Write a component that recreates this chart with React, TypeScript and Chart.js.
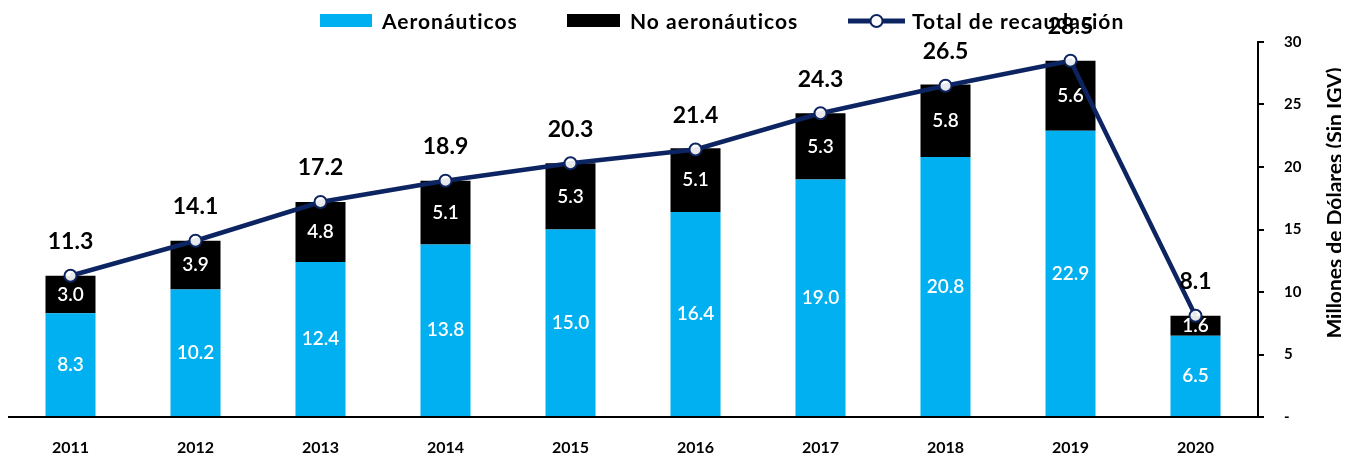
import React, { useEffect, useRef } from "react";
import { Chart, registerables } from "chart.js";

Chart.register(...registerables);

const years = ["2011", "2012", "2013", "2014", "2015", "2016", "2017", "2018", "2019", "2020"];
const aeronauticos = [8.3, 10.2, 12.4, 13.8, 15.0, 16.4, 19.0, 20.8, 22.9, 6.5];
const noAeronauticos = [3.0, 3.9, 4.8, 5.1, 5.3, 5.1, 5.3, 5.8, 5.6, 1.6];
const totalRecaudacion = [11.3, 14.1, 17.2, 18.9, 20.3, 21.4, 24.3, 26.5, 28.5, 8.1];
const yTicks = [0, 5, 10, 15, 20, 25, 30];
const seriesNames = ["Aeronáuticos", "No aeronáuticos", "Total de recaudación"];
const axisTitle = "Millones de Dólares (Sin IGV)";

const CYAN = "#00B0F0";
const BLACK = "#000000";
const NAVY = "#0C2461";
const FONT = "Lato, 'Open Sans', sans-serif";

// legend layout (canvas px): marker start x, marker width, text start x
const legendSlots = [
  { mx: 312, mw: 52, tx: 374 },
  { mx: 559, mw: 53, tx: 622 },
  { mx: 840, mw: 57, tx: 904 },
];

const labelsPlugin = {
  id: "customLabels",
  afterDatasetsDraw(chart: any) {
    const ctx = chart.ctx;
    ctx.save();
    [0, 1].forEach((di) => {
      const meta = chart.getDatasetMeta(di);
      const data = chart.data.datasets[di].data as number[];
      meta.data.forEach((el: any, i: number) => {
        const cy = (el.y + el.base) / 2;
        ctx.fillStyle = "#ffffff";
        ctx.font = `600 19px ${FONT}`;
        ctx.textAlign = "center";
        ctx.textBaseline = "middle";
        ctx.fillText(data[i].toFixed(1), el.x, cy);
      });
    });
    const lmeta = chart.getDatasetMeta(2);
    const ldata = chart.data.datasets[2].data as number[];
    lmeta.data.forEach((el: any, i: number) => {
      ctx.fillStyle = "#000000";
      ctx.font = `bold 23px ${FONT}`;
      ctx.textAlign = "center";
      ctx.textBaseline = "middle";
      ctx.fillText(ldata[i].toFixed(1), el.x, el.y - 34);
    });
    ctx.restore();
  },
  afterDraw(chart: any) {
    const ctx = chart.ctx;
    ctx.save();
    ctx.font = `bold 21px ${FONT}`;
    (ctx as any).letterSpacing = "1px";
    ctx.textBaseline = "middle";
    ctx.textAlign = "left";
    const cy = 13;
    seriesNames.forEach((name, i) => {
      const s = legendSlots[i];
      if (i === 0 || i === 1) {
        ctx.fillStyle = i === 0 ? CYAN : BLACK;
        ctx.fillRect(s.mx, cy - 7, s.mw, 13);
      } else {
        ctx.strokeStyle = NAVY;
        ctx.lineWidth = 5;
        ctx.beginPath();
        ctx.moveTo(s.mx, cy);
        ctx.lineTo(s.mx + s.mw, cy);
        ctx.stroke();
        ctx.beginPath();
        ctx.arc(s.mx + s.mw / 2, cy, 6, 0, Math.PI * 2);
        ctx.fillStyle = "#ffffff";
        ctx.fill();
        ctx.lineWidth = 2;
        ctx.stroke();
      }
      ctx.fillStyle = "#000000";
      ctx.fillText(name, s.tx, cy + 1);
    });
    (ctx as any).letterSpacing = "0px";
    ctx.translate(1327, 195);
    ctx.rotate(-Math.PI / 2);
    ctx.font = `bold 21px ${FONT}`;
    ctx.textAlign = "center";
    ctx.textBaseline = "middle";
    ctx.fillText(axisTitle, 0, 0);
    ctx.restore();
  },
};

export default function App() {
  const ref = useRef<HTMLCanvasElement | null>(null);
  useEffect(() => {
    if (!ref.current) return;
    const chart = new Chart(ref.current, {
      type: "bar",
      data: {
        labels: years,
        datasets: [
          {
            type: "bar",
            label: seriesNames[0],
            data: aeronauticos,
            backgroundColor: CYAN,
            categoryPercentage: 1,
            barPercentage: 0.4,
            yAxisID: "y",
            order: 2,
          },
          {
            type: "bar",
            label: seriesNames[1],
            data: noAeronauticos,
            backgroundColor: BLACK,
            borderWidth: 0,
            categoryPercentage: 1,
            barPercentage: 0.4,
            yAxisID: "y",
            order: 2,
          },
          {
            type: "line",
            label: seriesNames[2],
            data: totalRecaudacion,
            borderColor: NAVY,
            borderWidth: 4.5,
            pointRadius: 6,
            pointBorderWidth: 2,
            pointBackgroundColor: "rgba(255,255,255,0.9)",
            pointBorderColor: NAVY,
            tension: 0,
            yAxisID: "yLine",
            order: 1,
          } as any,
        ],
      },
      options: {
        animation: false,
        responsive: true,
        maintainAspectRatio: false,
        layout: { autoPadding: false, padding: { top: 34, left: 0, right: 0, bottom: 0 } },
        plugins: {
          legend: { display: false },
          tooltip: { enabled: false },
        },
        scales: {
          x: {
            stacked: true,
            offset: true,
            grid: { display: false, drawTicks: false },
            border: { display: true, color: "#000", width: 2 },
            ticks: {
              color: "#000",
              font: { family: FONT, size: 16, weight: "bold" },
              padding: 21,
              maxRotation: 0,
            },
            afterFit: (scale: any) => {
              scale.height = 38;
              scale.paddingLeft = 0;
              scale.paddingRight = 0;
            },
          },
          y: {
            stacked: true,
            position: "right",
            min: 0,
            max: 30,
            afterBuildTicks: (scale: any) => {
              scale.ticks = yTicks.map((v) => ({ value: v }));
            },
            grid: {
              display: true,
              drawOnChartArea: false,
              drawTicks: true,
              tickLength: 6,
              color: "#000",
              lineWidth: 2,
            },
            border: { display: true, color: "#000", width: 2 },
            ticks: {
              color: "#000",
              font: { family: FONT, size: 15, weight: "bold" },
              padding: 20,
              callback: (v: any) => (Number(v) === 0 ? "-" : String(v)),
            },
            afterFit: (scale: any) => {
              scale.width = 83;
            },
          },
          yLine: {
            display: false,
            position: "right",
            min: 0,
            max: 30,
          },
        },
      },
      plugins: [labelsPlugin],
    });
    return () => chart.destroy();
  }, []);
  return (
    <div style={{ position: "relative", width: "100%", height: 447 }}>
      <canvas ref={ref} />
    </div>
  );
}
